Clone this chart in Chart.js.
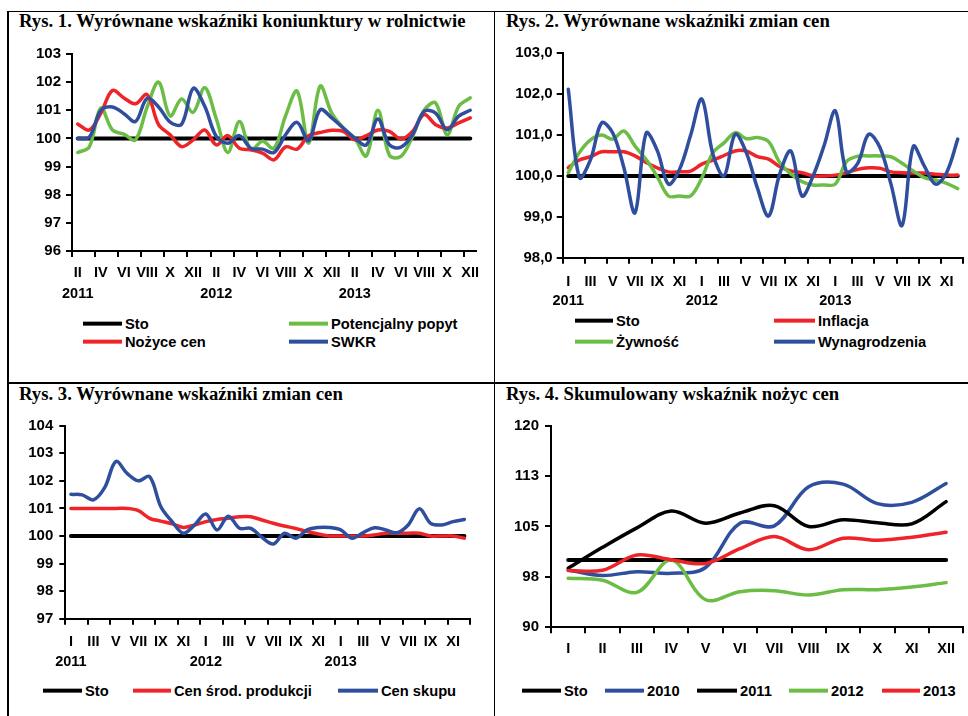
<!DOCTYPE html>
<html>
<head>
<meta charset="utf-8">
<script src="https://cdn.jsdelivr.net/npm/chart.js@4"></script>
<style>
    body { margin: 0; background: #fff; width: 968px; height: 716px; overflow: hidden; position: relative; }
    .rule { position: absolute; background: #000; }
    .title { position: absolute; font: bold 18.7px "Liberation Serif", "Times New Roman", serif; line-height: 1; white-space: nowrap; color: #000; }
    canvas { position: absolute; }
    .leg { position: absolute; display: flex; align-items: center; transform: translateY(-50%);
           font: bold 14.7px "Liberation Sans", Arial, sans-serif; line-height: 1; white-space: nowrap; color: #000; }
    .leg .swatch { display: inline-block; height: 4px; margin-right: 3px; }
</style>
</head>
<body>
<div class="rule" style="left:7px;top:10.5px;width:961px;height:1.5px"></div>
<div class="rule" style="left:7px;top:10.5px;width:1.5px;height:706px"></div>
<div class="rule" style="left:493.5px;top:10.5px;width:1.5px;height:706px"></div>
<div class="rule" style="left:7px;top:382px;width:961px;height:1.5px"></div>

<div class="title" style="left:19px;top:12.3px">Rys. 1. Wyrównane wskaźniki koniunktury w rolnictwie</div>
<div class="title" style="left:506px;top:12.3px">Rys. 2. Wyrównane wskaźniki zmian cen</div>
<div class="title" style="left:19px;top:385px">Rys. 3. Wyrównane wskaźniki zmian cen</div>
<div class="title" style="left:506px;top:385px">Rys. 4. Skumulowany wskaźnik nożyc cen</div>

<canvas id="c1"></canvas>
<canvas id="c2"></canvas>
<canvas id="c3"></canvas>
<canvas id="c4"></canvas>

<script>
// etykiety osi
const romanMonths = ['I', 'II', 'III', 'IV', 'V', 'VI', 'VII', 'VIII', 'IX', 'X', 'XI', 'XII'];
const years = ['2011', '2012', '2013'];

// Rys. 1 — II 2011 .. XII 2013
const sto1 = [100, 100, 100, 100, 100, 100, 100, 100, 100, 100, 100, 100, 100, 100, 100, 100, 100, 100,
              100, 100, 100, 100, 100, 100, 100, 100, 100, 100, 100, 100, 100, 100, 100, 100, 100];
const potencjalnyPopyt = [99.5, 99.7, 101.08, 100.3, 100.15, 99.95, 101.1, 102.0, 100.8, 101.4, 100.93, 101.8,
                          100.7, 99.5, 100.6, 99.6, 99.9, 99.65, 100.8, 101.68, 99.83, 101.86, 100.9, 100.37,
                          100.0, 99.38, 101.0, 99.4, 99.36, 100.07, 101.0, 101.26, 100.13, 101.14, 101.44];
const nozyceCen = [100.51, 100.3, 100.9, 101.7, 101.44, 101.23, 101.56, 100.49, 100.13, 99.71, 99.95, 100.3,
                   99.77, 100.1, 99.65, 99.6, 99.48, 99.24, 99.7, 99.62, 100.1, 100.21, 100.29, 100.25,
                   99.95, 100.1, 100.3, 100.25, 99.98, 100.25, 100.85, 100.49, 100.37, 100.55, 100.73];
const swkr = [100.0, 100.05, 101.0, 101.12, 100.88, 100.6, 101.42, 101.12, 100.58, 100.5, 101.78, 101.14,
              100.07, 99.83, 100.1, 99.65, 99.62, 99.5, 100.13, 100.57, 99.92, 101.02, 100.73, 100.37,
              100.01, 99.77, 100.69, 99.77, 99.69, 100.13, 100.96, 100.9, 100.31, 100.79, 101.0];

// Rys. 2 — I 2011 .. XII 2013
const sto2 = [100, 100, 100, 100, 100, 100, 100, 100, 100, 100, 100, 100, 100, 100, 100, 100, 100, 100,
              100, 100, 100, 100, 100, 100, 100, 100, 100, 100, 100, 100, 100, 100, 100, 100, 100, 100];
const inflacja = [100.2, 100.39, 100.47, 100.59, 100.59, 100.59, 100.49, 100.33, 100.2, 100.1, 100.1, 100.12,
                  100.29, 100.39, 100.5, 100.61, 100.61, 100.47, 100.41, 100.23, 100.12, 100.08, 100.0, 100.0,
                  100.02, 100.08, 100.16, 100.2, 100.19, 100.1, 100.08, 100.07, 100.07, 100.04, 100.02, 100.02];
const zywnosc = [100.08, 100.57, 100.88, 101.0, 100.9, 101.1, 100.73, 100.4, 99.98, 99.51, 99.51, 99.51,
                 99.95, 100.57, 100.81, 101.06, 100.91, 100.94, 100.84, 100.33, 100.05, 99.86, 99.78, 99.78,
                 99.8, 100.35, 100.48, 100.49, 100.49, 100.47, 100.31, 100.12, 99.96, 99.9, 99.82, 99.69];
const wynagrodzenia = [102.12, 99.96, 100.4, 101.3, 101.05, 100.2, 99.1, 101.05, 100.62, 99.8, 100.16, 101.0,
                       101.88, 100.53, 100.0, 101.02, 100.57, 99.7, 99.02, 100.05, 100.61, 99.51, 100.0, 100.75,
                       101.59, 100.1, 100.3, 101.02, 100.7, 99.8, 98.79, 100.72, 100.24, 99.8, 100.08, 100.9];

// Rys. 3 — I 2011 .. XII 2013
const sto3 = [100, 100, 100, 100, 100, 100, 100, 100, 100, 100, 100, 100, 100, 100, 100, 100, 100, 100,
              100, 100, 100, 100, 100, 100, 100, 100, 100, 100, 100, 100, 100, 100, 100, 100, 100, 100];
const cenSrodProdukcji = [101.0, 101.0, 101.0, 101.0, 101.0, 101.0, 100.92, 100.64, 100.54, 100.44, 100.31, 100.4,
                          100.52, 100.6, 100.64, 100.7, 100.7, 100.58, 100.46, 100.36, 100.27, 100.16, 100.07, 100.0,
                          100.0, 100.0, 100.0, 100.04, 100.1, 100.1, 100.1, 100.1, 100.0, 100.0, 100.0, 99.92];
const cenSkupu = [101.51, 101.49, 101.31, 101.75, 102.7, 102.27, 102.0, 102.15, 101.06, 100.52, 100.1, 100.4,
                  100.8, 100.22, 100.72, 100.28, 100.28, 99.95, 99.71, 100.1, 99.92, 100.22, 100.31, 100.31,
                  100.22, 99.92, 100.12, 100.3, 100.22, 100.12, 100.4, 100.99, 100.46, 100.4, 100.52, 100.6];

// Rys. 4 — I .. XII
const sto4 = [100, 100, 100, 100, 100, 100, 100, 100, 100, 100, 100, 100];
const rok2010 = [98.53, 97.7, 98.28, 98.03, 98.9, 105.5, 105.1, 110.9, 111.3, 108.4, 108.6, 111.4];
const rok2011 = [98.8, 101.9, 104.8, 107.3, 105.5, 107.0, 108.1, 105.0, 106.0, 105.55, 105.4, 108.7];
const rok2012 = [97.3, 97.0, 95.2, 100.0, 94.1, 95.3, 95.45, 94.8, 95.6, 95.6, 96.0, 96.65];
const rok2013 = [98.45, 98.5, 100.77, 100.05, 99.5, 101.7, 103.5, 101.55, 103.25, 102.95, 103.4, 104.15];

const BLACK = '#000000';
const GREEN = '#6cbd45';
const RED = '#ee2428';
const BLUE = '#2f4f9e';
const FONT = '"Liberation Sans", Arial, sans-serif';

function monthLabels(firstMonth, count) {
    const out = [];
    for (let i = 0; i < count; i++) {
        const m = firstMonth + i;
        out.push(romanMonths[m % 12] + ' ' + years[Math.floor(m / 12)]);
    }
    return out;
}

function makeChart(id, box, area, cfg) {
    const canvas = document.getElementById(id);
    canvas.width = box.w;
    canvas.height = box.h;
    canvas.style.left = box.x + 'px';
    canvas.style.top = box.y + 'px';

    const tickColor = ctx => {
        if (ctx.index === undefined) return cfg.endTick ? BLACK : 'rgba(0,0,0,0)';
        return ctx.index % cfg.tickEvery === 0 ? BLACK : 'rgba(0,0,0,0)';
    };

    return new Chart(canvas, {
        type: 'line',
        data: {
            labels: cfg.labels,
            datasets: cfg.series.map((s, k) => ({
                label: s.name,
                data: s.data,
                borderColor: s.color,
                borderWidth: s.width || 3.5,
                pointRadius: 0,
                tension: 0.35,
                fill: false,
                borderCapStyle: 'round',
                borderJoinStyle: 'round',
                order: cfg.series.length - k
            }))
        },
        options: {
            responsive: false,
            animation: false,
            devicePixelRatio: 1,
            layout: { padding: { left: 0, top: area.top - box.y, right: box.x + box.w - area.right, bottom: 0 } },
            plugins: { legend: { display: false }, tooltip: { enabled: false }, title: { display: false } },
            scales: {
                x: {
                    offset: true,
                    ticks: {
                        autoSkip: false, maxRotation: 0, minRotation: 0, color: BLACK,
                        padding: cfg.xPad,
                        font: { family: FONT, weight: 'bold', size: 14.5, lineHeight: cfg.xLine / 14.5 },
                        callback: function (value, index) { return cfg.xLabel(this.getLabelForValue(value), index); }
                    },
                    grid: { offset: true, drawOnChartArea: false, drawTicks: true, tickLength: 6, lineWidth: 2, color: tickColor },
                    border: { color: BLACK, width: 2 },
                    afterFit: s => { s.height = box.y + box.h - area.bottom; }
                },
                y: {
                    min: cfg.yMin, max: cfg.yMax,
                    ticks: {
                        stepSize: cfg.yStep, color: BLACK, padding: cfg.yPad,
                        font: { family: FONT, weight: 'bold', size: 15 },
                        callback: cfg.yFormat
                    },
                    grid: { drawOnChartArea: false, drawTicks: true, tickLength: 6, lineWidth: 2, color: BLACK },
                    border: { color: BLACK, width: 2 },
                    afterFit: s => { s.width = area.left - box.x; }
                }
            }
        }
    });
}

function addLegend(items) {
    items.forEach(it => {
        const d = document.createElement('div');
        d.className = 'leg';
        d.style.left = it.x + 'px';
        d.style.top = it.y + 'px';
        const sw = document.createElement('span');
        sw.className = 'swatch';
        sw.style.width = (it.len || 39) + 'px';
        sw.style.background = it.series.color;
        d.appendChild(sw);
        d.appendChild(document.createTextNode(it.series.name));
        document.body.appendChild(d);
    });
}

// etykieta miesiąca co drugi miesiąc, rok pod pierwszym miesiącem roku na osi
function periodicLabel(firstRoman) {
    return (label, index) => {
        if (index % 2 !== 0) return '';
        const [m, y] = label.split(' ');
        return m === firstRoman ? [m, y] : m;
    };
}

// ---- Rys. 1
const s1 = [
    { name: 'Sto', data: sto1, color: BLACK, width: 4 },
    { name: 'Potencjalny popyt', data: potencjalnyPopyt, color: GREEN },
    { name: 'Nożyce cen', data: nozyceCen, color: RED },
    { name: 'SWKR', data: swkr, color: BLUE }
];
makeChart('c1', { x: 9, y: 40, w: 484, h: 272 }, { left: 72, top: 53.3, right: 476, bottom: 251 }, {
    labels: monthLabels(1, 35), series: s1,
    yMin: 96, yMax: 103, yStep: 1, yPad: 5, yFormat: v => String(v),
    xPad: 5.5, xLine: 21, tickEvery: 2, endTick: false, xLabel: periodicLabel('II')
});
addLegend([
    { x: 83, y: 324, series: s1[0] }, { x: 289, y: 324, series: s1[1] },
    { x: 83, y: 341.5, series: s1[2] }, { x: 289, y: 341.5, series: s1[3] }
]);

// ---- Rys. 2
const s2 = [
    { name: 'Sto', data: sto2, color: BLACK, width: 4 },
    { name: 'Inflacja', data: inflacja, color: RED },
    { name: 'Żywność', data: zywnosc, color: GREEN },
    { name: 'Wynagrodzenia', data: wynagrodzenia, color: BLUE }
];
makeChart('c2', { x: 496, y: 40, w: 472, h: 272 }, { left: 562.7, top: 53.3, right: 963.3, bottom: 257.7 }, {
    labels: monthLabels(0, 36), series: s2,
    yMin: 98, yMax: 103, yStep: 1, yPad: 4, yFormat: v => v.toFixed(1).replace('.', ','),
    xPad: 8.3, xLine: 19.3, tickEvery: 2, endTick: true, xLabel: periodicLabel('I')
});
addLegend([
    { x: 575, y: 321, len: 38, series: s2[0] }, { x: 774, y: 321, len: 41, series: s2[1] },
    { x: 575, y: 341.5, len: 38, series: s2[2] }, { x: 774, y: 341.5, len: 41, series: s2[3] }
]);

// ---- Rys. 3
const s3 = [
    { name: 'Sto', data: sto3, color: BLACK, width: 4 },
    { name: 'Cen środ. produkcji', data: cenSrodProdukcji, color: RED },
    { name: 'Cen skupu', data: cenSkupu, color: BLUE }
];
makeChart('c3', { x: 9, y: 410, w: 484, h: 264 }, { left: 65.3, top: 425.7, right: 470, bottom: 618.7 }, {
    labels: monthLabels(0, 36), series: s3,
    yMin: 97, yMax: 104, yStep: 1, yPad: 6, yFormat: v => String(v),
    xPad: 7, xLine: 20, tickEvery: 2, endTick: true, xLabel: periodicLabel('I')
});
addLegend([
    { x: 43, y: 691, series: s3[0] }, { x: 133, y: 691, len: 38, series: s3[1] }, { x: 338, y: 691, len: 40, series: s3[2] }
]);

// ---- Rys. 4
const s4 = [
    { name: 'Sto', data: sto4, color: BLACK, width: 4 },
    { name: '2010', data: rok2010, color: BLUE },
    { name: '2011', data: rok2011, color: BLACK },
    { name: '2012', data: rok2012, color: GREEN },
    { name: '2013', data: rok2013, color: RED }
];
makeChart('c4', { x: 496, y: 410, w: 472, h: 264 }, { left: 551, top: 425.7, right: 963.3, bottom: 627.3 }, {
    labels: romanMonths, series: s4,
    yMin: 90, yMax: 120, yStep: 7.5, yPad: 6, yFormat: v => String(Math.round(v)),
    xPad: 7.5, xLine: 17, tickEvery: 1, endTick: true, xLabel: (label) => label
});
addLegend([
    { x: 522, y: 690.5, series: s4[0] }, { x: 605, y: 690.5, series: s4[1] }, { x: 697, y: 690.5, len: 40, series: s4[2] },
    { x: 789, y: 690.5, series: s4[3] }, { x: 882, y: 690.5, len: 38, series: s4[4] }
]);
</script>
</body>
</html>
